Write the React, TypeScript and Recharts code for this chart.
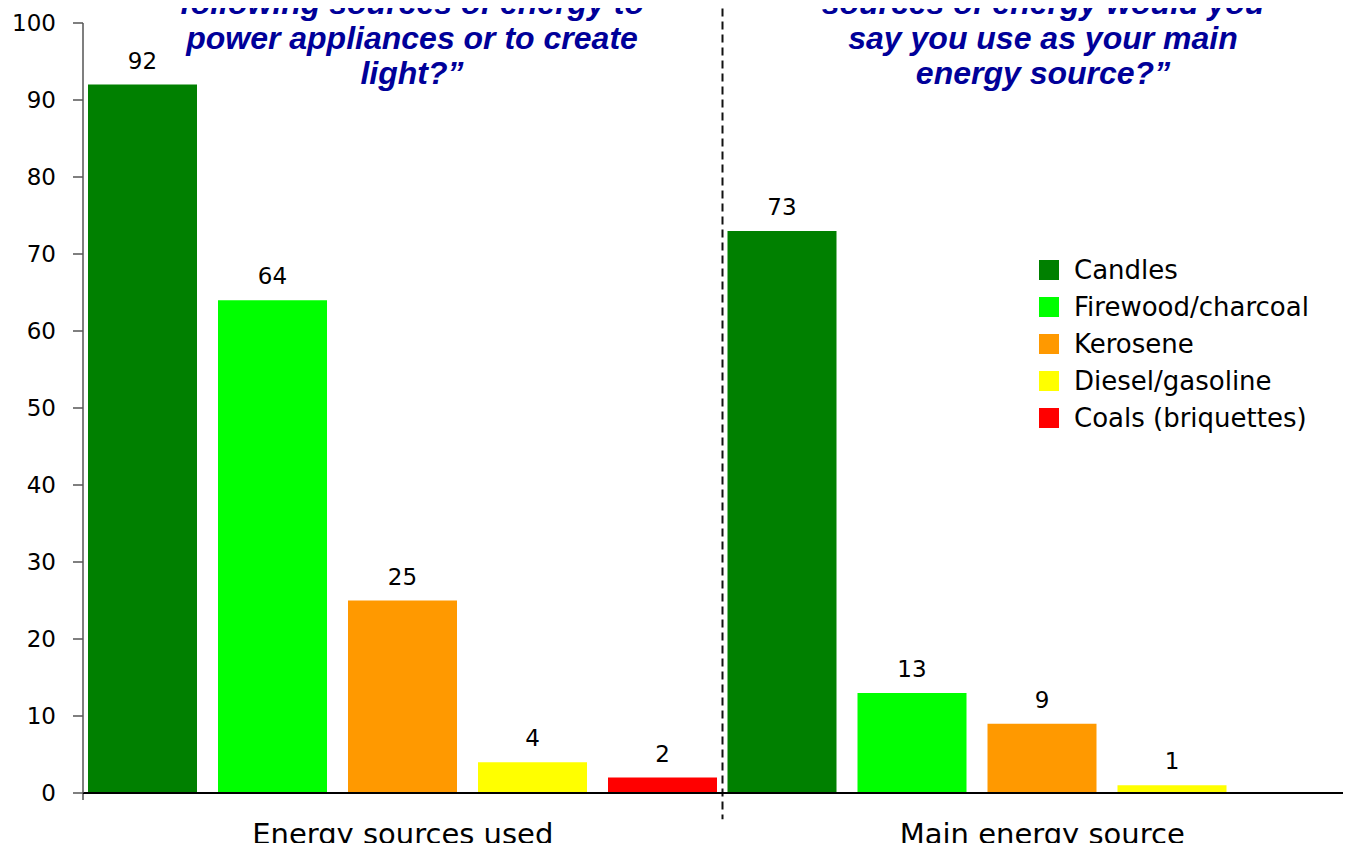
import {
  BarChart,
  Bar,
  XAxis,
  YAxis,
  LabelList,
  Legend,
  ReferenceLine,
} from "recharts";

const categories = ["Energy sources used", "Main energy source"];
const candles = [92, 73];
const firewood = [64, 13];
const kerosene = [25, 9];
const diesel = [4, 1];
const coals = [2, null];
const yTicks = [0, 10, 20, 30, 40, 50, 60, 70, 80, 90, 100];

const leftTitle = [
  "following sources of energy to",
  "power appliances or to create",
  "light?\u201D",
];
const rightTitle = [
  "sources of energy would you",
  "say you use as your main",
  "energy source?\u201D",
];

const series = [
  { key: "candles", name: "Candles", color: "#008000" },
  { key: "firewood", name: "Firewood/charcoal", color: "#00FF00" },
  { key: "kerosene", name: "Kerosene", color: "#FF9900" },
  { key: "diesel", name: "Diesel/gasoline", color: "#FFFF00" },
  { key: "coals", name: "Coals (briquettes)", color: "#FF0000" },
];

const data = categories.map((category, i) => ({
  category,
  candles: candles[i],
  firewood: firewood[i],
  kerosene: kerosene[i],
  diesel: diesel[i],
  coals: coals[i],
}));

const sans = "'DejaVu Sans', sans-serif";
const arial = "'Liberation Sans', Arial, sans-serif";

const order = series.map((s) => s.name);

const renderLegend = (props: any) => {
  const items = [...(props.payload || [])].sort(
    (a: any, b: any) => order.indexOf(a.value) - order.indexOf(b.value)
  );
  return (
    <ul style={{ listStyle: "none", margin: 0, padding: 0 }}>
      {items.map((entry: any) => (
        <li
          key={entry.value}
          style={{ display: "flex", alignItems: "center", height: 37 }}
        >
          <span
            style={{
              display: "inline-block",
              width: 20,
              height: 20,
              background: entry.color,
              marginRight: 15,
            }}
          />
          <span style={{ fontFamily: sans, fontSize: 26, color: "#000" }}>
            {entry.value}
          </span>
        </li>
      ))}
    </ul>
  );
};

const Title = ({ lines, cx }: { lines: string[]; cx: number }) => (
  <>
    {lines.map((line, i) => (
      <text
        key={line}
        x={cx}
        y={14 + i * 35}
        textAnchor="middle"
        fontFamily={arial}
        fontWeight="bold"
        fontStyle="italic"
        fontSize={32}
        fill="#000099"
      >
        {line}
      </text>
    ))}
  </>
);

export default function App() {
  return (
    <div
      style={{
        margin: -8,
        width: 1351,
        height: 851,
        overflow: "hidden",
        position: "relative",
        background: "#fff",
      }}
    >
      <BarChart
        width={1362}
        height={851}
        data={data}
        margin={{ top: 23, right: 0, bottom: 0, left: 0 }}
        barSize={109}
        barGap={21}
      >
        <XAxis
          dataKey="category"
          axisLine={{ stroke: "#000", strokeWidth: 2 }}
          tickLine={false}
          tickSize={0}
          tickMargin={30}
          height={58}
          tick={{ fill: "#000", fontSize: 29, fontFamily: sans }}
        />
        <YAxis
          domain={[0, 100]}
          ticks={yTicks}
          width={83}
          axisLine={{ stroke: "#555", strokeWidth: 1.5 }}
          tickLine={{ stroke: "#555", strokeWidth: 1.5 }}
          tickSize={10}
          tickMargin={17}
          tick={{ fill: "#000", fontSize: 23, fontFamily: sans }}
        />
        {/* dashed divider between the two question groups */}
        <ReferenceLine
          segment={[
            { x: categories[1], y: 112 },
            { x: categories[1], y: -3.4 },
          ]}
          position="start"
          ifOverflow="visible"
          stroke="#111"
          strokeWidth={2}
          strokeDasharray="8 5"
        />
        <ReferenceLine
          segment={[
            { x: categories[0], y: 0 },
            { x: categories[0], y: -0.9 },
          ]}
          position="start"
          ifOverflow="visible"
          stroke="#555"
          strokeWidth={1.5}
        />
        {series.map((s) => (
          <Bar
            key={s.key}
            dataKey={s.key}
            name={s.name}
            fill={s.color}
            isAnimationActive={false}
          >
            <LabelList
              dataKey={s.key}
              position="top"
              offset={16}
              fill="#000"
              fontSize={23}
              fontFamily={sans}
            />
          </Bar>
        ))}
        <Legend
          layout="vertical"
          align="center"
          verticalAlign="middle"
          content={renderLegend}
          wrapperStyle={{ left: 1039, top: 251, width: 300 }}
        />
      </BarChart>
      <svg
        width={1351}
        height={120}
        style={{ position: "absolute", left: 0, top: 0, pointerEvents: "none" }}
      >
        <Title lines={leftTitle} cx={412} />
        <Title lines={rightTitle} cx={1043} />
      </svg>
    </div>
  );
}
